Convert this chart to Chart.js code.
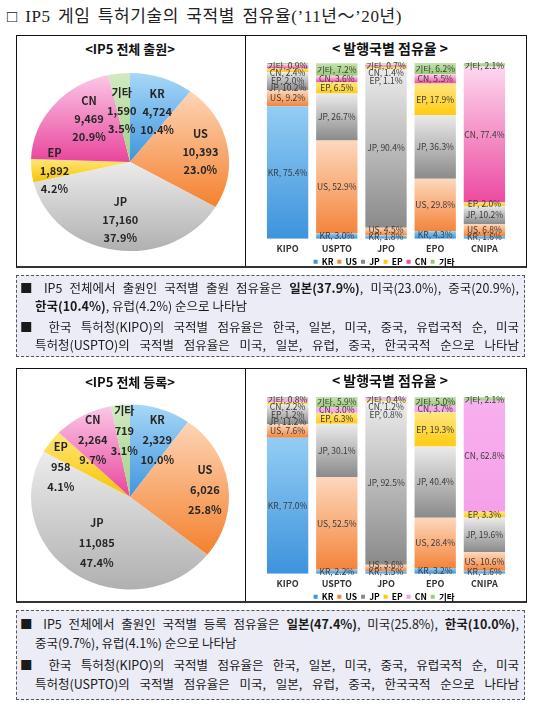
<!DOCTYPE html>
<html><head><meta charset="utf-8">
<script src="https://cdn.jsdelivr.net/npm/chart.js@4.4.1/dist/chart.umd.min.js"></script>
<style>
body{margin:0;width:537px;height:711px;background:#fff;position:relative;overflow:hidden;font-family:"Noto Sans CJK KR",sans-serif;}
canvas{position:absolute;}
#title{position:absolute;left:7px;top:2px;font-family:"Liberation Serif","Noto Sans CJK KR",serif;font-size:17px;letter-spacing:0.6px;word-spacing:2.5px;color:#222;white-space:nowrap;}
.panel{position:absolute;left:16px;width:511px;border:1px solid #111;border-bottom:2px solid #333;box-sizing:border-box;}
.divider{position:absolute;left:228px;top:0;bottom:0;border-left:1px solid #111;}
.ptitle{position:absolute;font-weight:bold;color:#111;white-space:nowrap;transform:translate(-50%,-50%);}
.tbox{position:absolute;left:16px;width:509px;background:#ececf6;border:1px dashed #555;box-sizing:border-box;}
.line{position:absolute;font-size:12.5px;line-height:18px;color:#1a1a1a;text-align:justify;text-align-last:justify;}
.line.l{text-align-last:left;}
</style></head>
<body>
<div id="title">□ IP5 게임 특허기술의 국적별 점유율(’11년～’20년)</div>

<div class="panel" style="top:35px;height:233px;"><div class="divider"></div></div>
<div class="ptitle" style="left:130px;top:48px;font-size:13px;">&lt;IP5 전체 출원&gt;</div>
<div class="ptitle" style="left:390px;top:48px;font-size:14px;">&lt; 발행국별 점유율 &gt;</div>
<canvas id="pie1" width="228" height="230" style="left:17px;top:36px;width:228px;height:230px;"></canvas>
<canvas id="bar1" width="280" height="220" style="left:246px;top:56px;width:280px;height:220px;"></canvas>

<div class="tbox" style="top:275px;height:82px;"></div>
<div class="line" style="left:20px;top:279px;width:499px;">■ IP5 전체에서 출원인 국적별 출원 점유율은 <b>일본(37.9%)</b>, 미국(23.0%), 중국(20.9%),</div>
<div class="line l" style="left:35px;top:297px;width:484px;"><b>한국(10.4%)</b>, 유럽(4.2%) 순으로 나타남</div>
<div class="line" style="left:20px;top:318px;width:499px;">■ 한국 특허청(KIPO)의 국적별 점유율은 한국, 일본, 미국, 중국, 유럽국적 순, 미국</div>
<div class="line" style="left:35px;top:336px;width:484px;">특허청(USPTO)의 국적별 점유율은 미국, 일본, 유럽, 중국, 한국국적 순으로 나타남</div>

<div class="panel" style="top:368px;height:235px;"><div class="divider"></div></div>
<div class="ptitle" style="left:130px;top:381px;font-size:13px;">&lt;IP5 전체 등록&gt;</div>
<div class="ptitle" style="left:390px;top:380px;font-size:14px;">&lt; 발행국별 점유율 &gt;</div>
<canvas id="pie2" width="228" height="232" style="left:17px;top:369px;width:228px;height:232px;"></canvas>
<canvas id="bar2" width="280" height="221" style="left:246px;top:390px;width:280px;height:221px;"></canvas>

<div class="tbox" style="top:610px;height:90px;"></div>
<div class="line" style="left:20px;top:615px;width:499px;">■ IP5 전체에서 출원인 국적별 등록 점유율은 <b>일본(47.4%)</b>, 미국(25.8%), <b>한국(10.0%)</b>,</div>
<div class="line l" style="left:35px;top:634px;width:484px;">중국(9.7%), 유럽(4.1%) 순으로 나타남</div>
<div class="line" style="left:20px;top:656px;width:499px;">■ 한국 특허청(KIPO)의 국적별 점유율은 한국, 일본, 미국, 중국, 유럽국적 순, 미국</div>
<div class="line" style="left:35px;top:675px;width:484px;">특허청(USPTO)의 국적별 점유율은 미국, 일본, 유럽, 중국, 한국국적 순으로 나타남</div>

<script>
// ---------- DATA ----------
const countries = ['KR', 'US', 'JP', 'EP', 'CN', '기타'];
const offices = ['KIPO', 'USPTO', 'JPO', 'EPO', 'CNIPA'];

// IP5 전체 출원 (pie)
const appTotals = [4724, 10393, 17160, 1892, 9469, 1590];
// IP5 전체 등록 (pie)
const regTotals = [2329, 6026, 11085, 958, 2264, 719];

// 발행국별 점유율 – 출원 (%), per office
const appKR = [75.4, 3.0, 1.8, 4.3, 1.6];
const appUS = [9.2, 52.9, 4.5, 29.8, 6.8];
const appJP = [10.2, 26.7, 90.4, 36.3, 10.2];
const appEP = [2.0, 6.5, 1.1, 17.9, 2.0];
const appCN = [2.4, 3.6, 1.4, 5.5, 77.4];
const appETC = [0.9, 7.2, 0.7, 6.2, 2.1];

// 발행국별 점유율 – 등록 (%), per office
const regKR = [77.0, 2.2, 1.5, 3.2, 1.6];
const regUS = [7.6, 52.5, 3.6, 28.4, 10.6];
const regJP = [11.2, 30.1, 92.5, 40.4, 19.6];
const regEP = [1.2, 6.3, 0.8, 19.3, 3.3];
const regCN = [2.2, 3.0, 1.2, 3.7, 62.8];
const regETC = [0.8, 5.9, 0.4, 5.0, 2.1];

// ---------- STYLE ----------
const FONT = '"Noto Sans CJK KR", sans-serif';
const pieGrad = [
  ['#a8d7f7', '#3f95df'],
  ['#fdd5b6', '#f4812f'],
  ['#ececec', '#b0b0b0'],
  ['#ffe77a', '#f6c400'],
  ['#fbc8e7', '#e8459c'],
  ['#d2eac3', '#a2cf88']
];
const barGrad1 = [
  ['#93cdf4', '#3d93dc'],
  ['#fdd8bd', '#f4843b'],
  ['#ebebeb', '#8a8a8a'],
  ['#ffe680', '#ffcb10'],
  ['#fcd8ee', '#ec4aa0'],
  ['#c4e2ae', '#9acb78']
];
const barGrad2 = barGrad1.map((g, i) => i === 4 ? ['#f8b0ee', '#f5a0e9'] : g);

// ---------- PLUGINS ----------
const ellipsePlugin = {
  id: 'ellipse',
  beforeDatasetsDraw(chart, args, opts) {
    const m = chart.getDatasetMeta(0).data[0];
    if (!m) return;
    const ctx = chart.ctx;
    ctx.save();
    ctx.translate(m.x, m.y);
    ctx.scale(1, opts.sy);
    ctx.translate(-m.x, -m.y);
  },
  afterDatasetsDraw(chart) { chart.ctx.restore(); }
};

const pieLabelPlugin = {
  id: 'pieLabels',
  afterDraw(chart, args, opts) {
    const ctx = chart.ctx;
    const meta = chart.getDatasetMeta(0);
    const data = chart.data.datasets[0].data;
    const total = data.reduce((a, b) => a + b, 0);
    const sy = chart.options.plugins.ellipse.sy;
    ctx.save();
    ctx.fillStyle = '#262626';
    ctx.font = 'bold 11px ' + FONT;
    ctx.textAlign = 'center';
    ctx.textBaseline = 'middle';
    meta.data.forEach((arc, i) => {
      const a = (arc.startAngle + arc.endAngle) / 2 + opts.shift[i] * Math.PI / 180;
      const d = arc.outerRadius * opts.frac[i];
      const x = arc.x + d * Math.cos(a);
      const y = arc.y + d * Math.sin(a) * sy;
      const lines = [chart.data.labels[i], data[i].toLocaleString('en-US'), (data[i] / total * 100).toFixed(1) + '%'];
      lines.forEach((t, k) => ctx.fillText(t, x, y + (k - 1) * opts.lh));
    });
    ctx.restore();
  }
};

function pieFill(grads) {
  return (c) => {
    const chart = c.chart, area = chart.chartArea;
    const g = grads[c.dataIndex];
    if (!area) return g[1];
    const data = chart.data.datasets[0].data;
    const total = data.reduce((a, b) => a + b, 0);
    let cum = 0;
    for (let k = 0; k < c.dataIndex; k++) cum += data[k];
    const a0 = -Math.PI / 2 + cum / total * 2 * Math.PI;
    const a1 = a0 + data[c.dataIndex] / total * 2 * Math.PI;
    const cy = (area.top + area.bottom) / 2;
    const r = Math.min(area.width, area.height) / 2;
    let ys = [cy, cy + r * Math.sin(a0), cy + r * Math.sin(a1)];
    const has = (t) => { for (let k = -1; k <= 2; k++) { const v = t + k * 2 * Math.PI; if (v >= a0 && v <= a1) return true; } return false; };
    if (has(Math.PI / 2)) ys.push(cy + r);
    if (has(-Math.PI / 2)) ys.push(cy - r);
    const y0 = Math.min(...ys), y1 = Math.max(...ys);
    const gr = chart.ctx.createLinearGradient(0, y0, 0, y1 + 0.01);
    gr.addColorStop(0, g[0]);
    gr.addColorStop(1, g[1]);
    return gr;
  };
}

function makePie(id, values, sy, frac, shift, lh) {
  new Chart(document.getElementById(id), {
    type: 'pie',
    data: {
      labels: countries,
      datasets: [{ data: values, backgroundColor: pieFill(pieGrad), borderWidth: 0 }]
    },
    options: {
      responsive: false,
      animation: false,
      layout: { padding: { left: 14, right: 16, top: id === 'pie1' ? 27 : 29, bottom: 5 } },
      plugins: {
        legend: { display: false },
        tooltip: { enabled: false },
        ellipse: { sy },
        pieLabels: { frac, shift, lh }
      }
    },
    plugins: [ellipsePlugin, pieLabelPlugin]
  });
}

makePie('pie1', appTotals, 0.9, [0.63, 0.72, 0.66, 0.77, 0.64, 0.58], [7, 2, 0, -2, 10, -2], 18);
makePie('pie2', regTotals, 0.935, [0.68, 0.76, 0.6, 0.77, 0.72, 0.72], [6, 2, 0, -12, -3, 1], 20);

// ---------- BAR CHARTS ----------
function layoutLabels(items, lo, hi, gap) {
  items.sort((a, b) => a.y - b.y);
  for (let it = 0; it < 200; it++) {
    let moved = false;
    for (let i = 0; i < items.length - 1; i++) {
      const a = items[i], b = items[i + 1];
      const d = b.y - a.y;
      if (d < gap - 0.01) { const s = (gap - d) / 2; a.y -= s; b.y += s; moved = true; }
    }
    items.forEach(t => { t.y = Math.max(lo, Math.min(hi, t.y)); });
    if (!moved) break;
  }
}

const barLabelPlugin = {
  id: 'barLabels',
  afterDatasetsDraw(chart) {
    const ctx = chart.ctx, area = chart.chartArea;
    ctx.save();
    ctx.font = '8.5px ' + FONT;
    ctx.fillStyle = '#3a3a3a';
    ctx.textAlign = 'center';
    ctx.textBaseline = 'middle';
    chart.data.labels.forEach((lab, i) => {
      const items = [];
      chart.data.datasets.forEach((ds, di) => {
        const el = chart.getDatasetMeta(di).data[i];
        items.push({ x: el.x, y: (el.y + el.base) / 2, t: ds.label + ', ' + ds.data[i].toFixed(1) + '%' });
      });
      layoutLabels(items, area.top + 2.5, area.bottom - 2, 7.4);
      items.forEach(o => ctx.fillText(o.t, o.x, o.y));
    });
    ctx.restore();
  }
};

function barFill(grads, di) {
  return (c) => {
    const chart = c.chart, area = chart.chartArea;
    const g = grads[di];
    if (!area || !chart.scales.y) return g[1];
    let start = 0;
    for (let k = 0; k < di; k++) start += chart.data.datasets[k].data[c.dataIndex];
    const end = start + chart.data.datasets[di].data[c.dataIndex];
    const yTop = chart.scales.y.getPixelForValue(end);
    const yBot = chart.scales.y.getPixelForValue(start);
    const gr = chart.ctx.createLinearGradient(0, yTop, 0, yBot + 0.01);
    gr.addColorStop(0, g[0]);
    gr.addColorStop(1, g[1]);
    return gr;
  };
}

function makeBar(id, series, grads) {
  new Chart(document.getElementById(id), {
    type: 'bar',
    data: {
      labels: offices,
      datasets: series.map((s, di) => ({
        label: countries[di],
        data: s,
        backgroundColor: barFill(grads, di),
        borderWidth: 0,
        barPercentage: 0.84,
        categoryPercentage: 1.0
      }))
    },
    options: {
      responsive: false,
      animation: false,
      layout: { padding: { left: 17, right: 17, top: 7, bottom: 0 } },
      scales: {
        x: {
          stacked: true,
          grid: { display: false, drawTicks: false, tickLength: 0 },
          border: { display: false },
          ticks: { color: '#333', font: { family: FONT, size: 9, weight: 'bold' }, padding: 4 }
        },
        y: { stacked: true, display: false, min: 0, max: 100 }
      },
      plugins: {
        tooltip: { enabled: false },
        legend: {
          position: 'bottom',
          labels: {
            boxWidth: 4, boxHeight: 4, padding: 0,
            color: '#333',
            font: { family: FONT, size: 8.5, weight: 'bold' },
            generateLabels: (chart) => chart.data.datasets.map((ds, di) => ({
              text: ds.label + '  ', fillStyle: grads[di][1], strokeStyle: grads[di][1], lineWidth: 0, datasetIndex: di, hidden: false
            }))
          }
        }
      }
    },
    plugins: [barLabelPlugin]
  });
}

makeBar('bar1', [appKR, appUS, appJP, appEP, appCN, appETC], barGrad1);
makeBar('bar2', [regKR, regUS, regJP, regEP, regCN, regETC], barGrad2);
</script>
</body></html>
